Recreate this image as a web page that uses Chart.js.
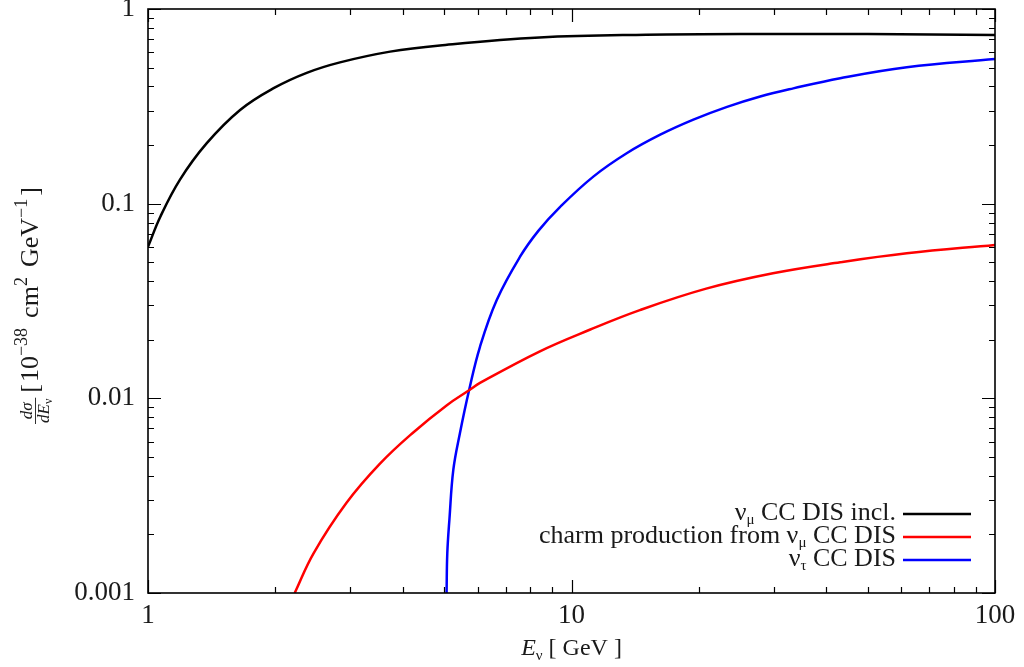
<!DOCTYPE html>
<html>
<head>
<meta charset="utf-8">
<script src="https://cdn.jsdelivr.net/npm/chart.js@4.4.0/dist/chart.umd.min.js"></script>
<style>
  html, body { margin: 0; padding: 0; background: #fff; }
</style>
</head>
<body>
<canvas id="xsec" width="1024" height="667"></canvas>
<script>
// energies in GeV, cross sections in 10^-38 cm^2 / GeV
const numuEnergy = [1, 1.07, 1.19, 1.375, 1.65, 1.98, 2.37, 2.84, 3.73, 4.89, 8.4, 15, 30, 50, 100];
const numuIncl   = [0.060, 0.086, 0.133, 0.204, 0.303, 0.392, 0.470, 0.532, 0.604, 0.650, 0.714, 0.737, 0.744, 0.744, 0.735];

const charmEnergy = [2.22, 2.46, 2.94, 3.53, 4.23, 5.07, 5.73, 6.08, 8.4, 11.04, 14.5, 20.8, 29.9, 43.1, 61.9, 100];
const charmXsec   = [0.001, 0.0016, 0.0029, 0.00462, 0.00668, 0.0092, 0.0110, 0.0120, 0.0174, 0.0225, 0.0284, 0.0366, 0.0439, 0.050, 0.0556, 0.0614];

const nutauEnergy = [5.07, 5.09, 5.15, 5.26, 5.45, 5.73, 6.08, 6.66, 7.56, 8.35, 9.39, 11.26, 13.5, 16.2, 19.4, 23.3, 27.9, 33.4, 43.1, 61.9, 100];
const nutauXsec   = [0.001, 0.0016, 0.0024, 0.0043, 0.0066, 0.0110, 0.0184, 0.0320, 0.0534, 0.0725, 0.0960, 0.1377, 0.1815, 0.226, 0.270, 0.314, 0.355, 0.391, 0.441, 0.502, 0.554];

const xTicks = [1, 10, 100];
const yTicks = [0.001, 0.01, 0.1, 1];

const FONT = '"Liberation Serif", "DejaVu Serif", serif';

function pts(xs, ys) {
  return xs.map(function(x, i) { return { x: x, y: ys[i] }; });
}

// text runs with sub/superscripts
function richWidth(ctx, parts) {
  var w = 0;
  parts.forEach(function(p) { ctx.font = p.f; w += (p.gap || 0) + ctx.measureText(p.t).width; });
  return w;
}
function drawRich(ctx, x, y, parts) {
  parts.forEach(function(p) {
    ctx.font = p.f;
    x += p.gap || 0;
    ctx.fillText(p.t, x, y + (p.dy || 0));
    x += ctx.measureText(p.t).width;
  });
}

var big = '26px ' + FONT, small = '15px ' + FONT;

var legendRows = [
  [{t: 'ν', f: big}, {t: 'μ', f: small, dy: 4}, {t: ' CC DIS incl.', f: big}],
  [{t: 'charm production from ν', f: big}, {t: 'μ', f: small, dy: 4}, {t: ' CC DIS', f: big}],
  [{t: 'ν', f: big}, {t: 'τ', f: small, dy: 4}, {t: ' CC DIS', f: big}]
];

var decorPlugin = {
  id: 'decor',
  afterDraw: function(chart) {
    var ctx = chart.ctx, a = chart.chartArea;
    var xs = chart.scales.x, ys = chart.scales.y;
    ctx.save();
    ctx.strokeStyle = '#000';
    ctx.lineWidth = 1.2;

    // ticks point inward on all four sides
    ctx.beginPath();
    [1, 10].forEach(function(d) {
      for (var k = 1; k <= 10; k++) {
        var px = Math.round(xs.getPixelForValue(d * k)) + 0.5;
        var len = (k === 1 || k === 10) ? 13 : 6;
        ctx.moveTo(px, a.bottom); ctx.lineTo(px, a.bottom - len);
        ctx.moveTo(px, a.top); ctx.lineTo(px, a.top + len);
      }
    });
    [0.001, 0.01, 0.1].forEach(function(d) {
      for (var k = 1; k <= 10; k++) {
        var py = Math.round(ys.getPixelForValue(d * k)) + 0.5;
        var len = (k === 1 || k === 10) ? 13 : 6;
        ctx.moveTo(a.left, py); ctx.lineTo(a.left + len, py);
        ctx.moveTo(a.right, py); ctx.lineTo(a.right - len, py);
      }
    });
    ctx.stroke();

    ctx.lineWidth = 1.6;
    ctx.strokeRect(a.left, a.top, a.right - a.left, a.bottom - a.top);

    // legend, text right-aligned with the line sample after it
    ctx.fillStyle = '#1a1a1a';
    ctx.textBaseline = 'alphabetic';
    ctx.textAlign = 'left';
    chart.data.datasets.forEach(function(ds, i) {
      var cy = 514 + i * 23;
      var parts = legendRows[i];
      var w = richWidth(ctx, parts);
      drawRich(ctx, 896 - w, cy + 6, parts);
      ctx.strokeStyle = ds.borderColor;
      ctx.lineWidth = 2.5;
      ctx.beginPath();
      ctx.moveTo(903, cy); ctx.lineTo(971, cy);
      ctx.stroke();
    });

    // x title
    var xt = [{t: 'E', f: 'italic 24px ' + FONT}, {t: 'ν', f: '15px ' + FONT, dy: 5}, {t: ' [ GeV ]', f: '24px ' + FONT}];
    var xw = richWidth(ctx, xt);
    drawRich(ctx, (a.left + a.right) / 2 - xw / 2, 655, xt);

    // y title, rotated
    ctx.translate(38, 424);
    ctx.rotate(-Math.PI / 2);
    var fri = 'italic 17px ' + FONT;
    var num = [{t: 'dσ', f: fri}];
    var den = [{t: 'dE', f: fri}, {t: 'ν', f: '12px ' + FONT, dy: 3}];
    var fw = Math.max(richWidth(ctx, num), richWidth(ctx, den)) + 2;
    drawRich(ctx, (fw - richWidth(ctx, num)) / 2, -6, num);
    drawRich(ctx, (fw - richWidth(ctx, den)) / 2, 11, den);
    ctx.strokeStyle = '#1a1a1a';
    ctx.lineWidth = 0.9;
    ctx.beginPath(); ctx.moveTo(0, -2.5); ctx.lineTo(fw, -2.5); ctx.stroke();
    var M = '26px ' + FONT, S = '18px ' + FONT;
    drawRich(ctx, fw + 5, 0, [
      {t: '[', f: M}, {t: '10', f: M, gap: 2}, {t: '−38', f: S, dy: -11},
      {t: 'cm', f: M, gap: 10}, {t: '2', f: S, dy: -11},
      {t: 'GeV', f: M, gap: 10}, {t: '−1', f: S, dy: -11}, {t: ']', f: M, gap: 3}
    ]);
    ctx.restore();
  }
};

var ctx = document.getElementById('xsec').getContext('2d');
var chart = new Chart(ctx, {
  type: 'scatter',
  data: {
    datasets: [{
      label: 'numu CC DIS incl.',
      data: pts(numuEnergy, numuIncl),
      borderColor: '#000000'
    }, {
      label: 'charm production from numu CC DIS',
      data: pts(charmEnergy, charmXsec),
      borderColor: '#ff0000'
    }, {
      label: 'nutau CC DIS',
      data: pts(nutauEnergy, nutauXsec),
      borderColor: '#0000ff'
    }]
  },
  options: {
    responsive: false,
    animation: false,
    devicePixelRatio: 1,
    layout: { padding: { left: 0, top: 9, right: 29, bottom: 0 } },
    datasets: {
      scatter: {
        showLine: true,
        pointRadius: 0,
        borderWidth: 2.5,
        tension: 0.4
      }
    },
    plugins: { legend: { display: false }, tooltip: { enabled: false } },
    scales: {
      x: {
        type: 'logarithmic',
        min: 1, max: 100,
        grid: { display: false, drawTicks: false },
        border: { display: false },
        afterBuildTicks: function(s) { s.ticks = xTicks.map(function(v) { return { value: v }; }); },
        afterFit: function(s) { s.height = 74; s.paddingLeft = 0; s.paddingRight = 0; },
        ticks: {
          autoSkip: false, maxRotation: 0, padding: 7,
          color: '#1a1a1a', font: { family: FONT, size: 27 },
          callback: function(v) { return String(v); }
        }
      },
      y: {
        type: 'logarithmic',
        min: 0.001, max: 1,
        grid: { display: false, drawTicks: false },
        border: { display: false },
        afterBuildTicks: function(s) { s.ticks = yTicks.map(function(v) { return { value: v }; }); },
        afterFit: function(s) { s.width = 148; s.paddingTop = 0; s.paddingBottom = 0; },
        ticks: {
          autoSkip: false, padding: 13,
          color: '#1a1a1a', font: { family: FONT, size: 27 },
          callback: function(v) { return String(v); }
        }
      }
    }
  },
  plugins: [decorPlugin]
});
</script>
</body>
</html>
